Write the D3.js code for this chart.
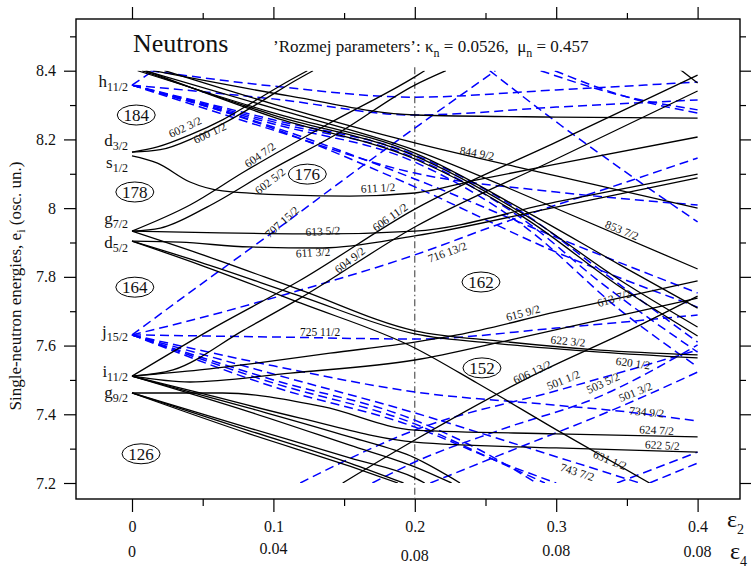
<!DOCTYPE html>
<html><head><meta charset="utf-8">
<script src="https://cdn.jsdelivr.net/npm/d3@7"></script>
<style>
body{margin:0;background:#fff}
svg{display:block}
text{font-family:"Liberation Serif","Times New Roman",serif;fill:#111}
</style></head><body>
<svg id="chart" width="751" height="569"></svg>
<script>
// ---------------- data ----------------
const energyTicks = [7.2, 7.4, 7.6, 7.8, 8, 8.2, 8.4];
const energyMinorTicks = [7.3, 7.5, 7.7, 7.9, 8.1, 8.3, 8.5];
const eps2Ticks = [0, 0.1, 0.2, 0.3, 0.4];
const eps2MinorTicks = [0.05, 0.15, 0.25, 0.35];
const eps4Labels = ["0", "0.04", "0.08", "0.08", "0.08"];
const eps4LabelShift = [0, -3, 4, -1, 0];

// positive parity orbitals (solid black): [eps2, e]
const positiveParityOrbitals = [
  [[0,8.163],[0.018,8.178],[0.041,8.213],[0.064,8.257],[0.088,8.315],[0.112,8.373],[0.124,8.4]],
  [[0,8.163],[0.02,8.17],[0.045,8.207],[0.068,8.254],[0.092,8.312],[0.115,8.37],[0.128,8.4]],
  [[0,8.152],[0.018,8.131],[0.041,8.076],[0.064,8.05],[0.112,8.038],[0.154,8.035],[0.2,8.044],[0.244,8.082],[0.3,8.128],[0.4,8.207]],
  [[0,7.933],[0.041,8.009],[0.079,8.105],[0.14,8.248],[0.2,8.382],[0.207,8.4]],
  [[0,7.933],[0.02,7.942],[0.053,8.003],[0.098,8.111],[0.147,8.221],[0.2,8.358],[0.222,8.4]],
  [[0,7.933],[0.062,7.928],[0.135,7.925],[0.2,7.933],[0.3,8.018],[0.4,8.099]],
  [[0,7.904],[0.034,7.901],[0.083,7.887],[0.135,7.884],[0.2,7.919],[0.3,8.003],[0.4,8.088]],
  [[0,7.511],[0.055,7.645],[0.119,7.79],[0.2,7.997],[0.3,8.192],[0.4,8.387]],
  [[0,7.511],[0.029,7.529],[0.079,7.645],[0.119,7.738],[0.2,7.945],[0.3,8.143],[0.4,8.341]],
  [[0,7.511],[0.048,7.529],[0.088,7.549],[0.14,7.578],[0.2,7.61],[0.23,7.631],[0.3,7.698],[0.4,7.788]],
  [[0,7.511],[0.041,7.494],[0.112,7.52],[0.2,7.558],[0.267,7.616],[0.4,7.738]],
  [[0,7.511],[0.048,7.462],[0.119,7.389],[0.2,7.319],[0.3,7.302],[0.4,7.29]],
  [[0,7.462],[0.064,7.462],[0.135,7.422],[0.2,7.354],[0.3,7.343],[0.4,7.334]],
  [[0,7.511],[0.083,7.418],[0.154,7.334],[0.2,7.273],[0.232,7.2]],
  [[0,7.511],[0.083,7.407],[0.154,7.31],[0.2,7.247],[0.226,7.2]],
  [[0,7.462],[0.083,7.352],[0.154,7.258],[0.192,7.2]],
  [[0,7.462],[0.083,7.343],[0.154,7.249],[0.188,7.2]],
  [[0,7.462],[0.083,7.36],[0.154,7.273],[0.2,7.215],[0.207,7.2]],
  [[0.149,7.2],[0.2,7.325],[0.284,7.514],[0.352,7.645],[0.4,7.744]],
  [[0,7.904],[0.048,7.835],[0.119,7.724],[0.2,7.593],[0.244,7.491],[0.303,7.348],[0.366,7.2]],
  [[0,7.933],[0.048,7.867],[0.119,7.762],[0.2,7.643],[0.26,7.613],[0.331,7.587],[0.4,7.573]],
  [[0,7.904],[0.048,7.843],[0.119,7.744],[0.2,7.634],[0.26,7.605],[0.331,7.581],[0.4,7.564]],
  [[0.015,8.4],[0.112,8.326],[0.2,8.271],[0.3,8.265],[0.4,8.262]],
  [[0.023,8.4],[0.1,8.303],[0.2,8.19],[0.3,8.094],[0.4,8.0]],
  [[0.009,8.4],[0.1,8.291],[0.2,8.169],[0.291,8.015],[0.4,7.823]],
  [[0.004,8.4],[0.1,8.277],[0.2,8.16],[0.279,7.989],[0.345,7.835],[0.4,7.709]],
  [[0.007,8.4],[0.1,8.271],[0.2,8.152],[0.279,7.977],[0.345,7.791],[0.4,7.654]],
  [[0.01,8.4],[0.1,8.265],[0.2,8.143],[0.279,7.968],[0.345,7.771],[0.4,7.628]],
  [[0.38,8.428],[0.4,8.364]]
];

// negative parity orbitals (blue dashed)
const negativeParityOrbitals = [
  [[0,8.358],[0.015,8.4]],
  [[0,8.358],[0.1,8.318],[0.2,8.271],[0.3,8.294],[0.4,8.315]],
  [[0,8.358],[0.1,8.257],[0.2,8.155],[0.279,7.98],[0.331,7.82],[0.4,7.61]],
  [[0,8.358],[0.1,8.251],[0.2,8.146],[0.279,7.96],[0.331,7.785],[0.4,7.581]],
  [[0,8.358],[0.1,8.245],[0.2,8.134],[0.279,7.942],[0.345,7.704],[0.4,7.538]],
  [[0,8.358],[0.1,8.227],[0.2,8.102],[0.3,8.047],[0.4,8.009]],
  [[0,8.358],[0.1,8.236],[0.2,8.085],[0.3,7.915],[0.4,7.753]],
  [[0,8.358],[0.1,8.232],[0.2,8.062],[0.3,7.872],[0.4,7.712]],
  [[0.013,8.4],[0.1,8.355],[0.2,8.323],[0.3,8.344],[0.4,8.367]],
  [[0.289,8.4],[0.345,8.329],[0.4,8.286]],
  [[0.299,8.4],[0.352,8.321],[0.4,8.277]],
  [[0.253,8.4],[0.303,8.242],[0.357,8.082],[0.4,7.96]],
  [[0,7.631],[0.048,7.776],[0.1,7.931],[0.159,8.111],[0.2,8.233],[0.257,8.4]],
  [[0,7.631],[0.048,7.68],[0.112,7.753],[0.2,7.864],[0.258,7.951],[0.354,8.082],[0.4,8.146]],
  [[0,7.631],[0.1,7.625],[0.2,7.619],[0.3,7.651],[0.4,7.689]],
  [[0,7.631],[0.1,7.541],[0.2,7.465],[0.298,7.427],[0.35,7.407],[0.4,7.38]],
  [[0,7.631],[0.1,7.517],[0.2,7.404],[0.274,7.31],[0.359,7.2]],
  [[0,7.631],[0.1,7.5],[0.2,7.383],[0.246,7.296],[0.286,7.2]],
  [[0,7.631],[0.1,7.491],[0.2,7.372],[0.253,7.273],[0.292,7.2]],
  [[0,7.631],[0.1,7.48],[0.2,7.363],[0.26,7.261],[0.3,7.2]],
  [[0.119,7.2],[0.2,7.354],[0.305,7.474],[0.4,7.587]],
  [[0.17,7.2],[0.2,7.261],[0.26,7.354],[0.333,7.456],[0.4,7.602]],
  [[0.211,7.2],[0.26,7.281],[0.356,7.441],[0.4,7.523]],
  [[0.343,7.2],[0.4,7.29]],
  [[0.366,7.2],[0.4,7.258]]
];

// Nilsson labels: [text, eps2, e]
const orbitalLabels = [
  ["602 3/2",0.0375,8.236],["600 1/2",0.055,8.219],["604 7/2",0.0905,8.155],["602 5/2",0.0976,8.079],
  ["611 1/2",0.174,8.059],["707 15/2",0.106,7.96],["606 11/2",0.1825,7.974],["613 5/2",0.135,7.933],
  ["611 3/2",0.128,7.871],["604 9/2",0.154,7.849],["725 11/2",0.133,7.64],["844 9/2",0.244,8.16],
  ["853 7/2",0.3465,7.936],["716 13/2",0.223,7.872],["615 9/2",0.2765,7.695],["613 7/2",0.341,7.738],
  ["622 3/2",0.3083,7.613],["620 1/2",0.3543,7.549],["606 13/2",0.283,7.523],["501 1/2",0.305,7.5],
  ["503 5/2",0.333,7.491],["501 3/2",0.356,7.465],["734 9/2",0.364,7.407],["624 7/2",0.371,7.354],
  ["622 5/2",0.375,7.31],["631 1/2",0.338,7.267],["743 7/2",0.315,7.232]
];
const orbitalLabelAngles = [-25,-25,-35,-38,-3,-42,-35,-3,-3,-38,0,10,22,-20,-15,-18,5,8,-25,-22,-25,-22,5,3,3,22,18];

// spherical states: [l, j, e of label baseline]
const sphericalStates = [["h","11/2",8.352],["d","3/2",8.181],["s","1/2",8.117],["g","7/2",7.954],
  ["d","5/2",7.884],["j","15/2",7.625],["i","11/2",7.508],["g","9/2",7.447]];

// shell gaps: [number, eps2, e]
const shellGaps = [["184",0.003,8.271],["178",0.002,8.047],["176",0.124,8.099],["164",0.002,7.77],
  ["162",0.2468,7.785],["152",0.2475,7.535],["126",0.0064,7.285]];

// ---------------- drawing ----------------
const SERIF = "'Liberation Serif','Times New Roman',serif";
const svg = d3.select("#chart");
const F = {l:76, r:740, t:19, b:499};
const x = d3.scaleLinear().domain([0,0.4]).range([132,697.6]);
const y = d3.scaleLinear().domain([7.2,8.4]).range([483,70.7]);

svg.append("defs").append("clipPath").attr("id","plotclip").append("rect")
  .attr("x", x(0)-1).attr("y", y(8.4)).attr("width", x(0.4)-x(0)+2).attr("height", y(7.2)-y(8.4));

// axes
function styleAxis(g){ g.attr("font-family",SERIF); g.select(".domain").remove();
  g.selectAll(".tick line").attr("stroke","#000").attr("stroke-width",1.2);
  g.selectAll(".tick text").style("font-family",SERIF).style("font-size","16px").attr("fill","#111"); }
svg.append("g").attr("transform",`translate(${F.l},0)`).call(d3.axisLeft(y).tickValues(energyTicks).tickSize(12).tickPadding(8).tickFormat(d3.format("~g"))).call(styleAxis);
svg.append("g").attr("transform",`translate(${F.l},0)`).call(d3.axisLeft(y).tickValues(energyMinorTicks).tickSize(6).tickFormat("")).call(styleAxis);
svg.append("g").attr("transform",`translate(${F.r},0)`).call(d3.axisRight(y).tickValues(energyTicks).tickSize(12).tickFormat("")).call(styleAxis);
svg.append("g").attr("transform",`translate(${F.r},0)`).call(d3.axisRight(y).tickValues(energyMinorTicks).tickSize(6).tickFormat("")).call(styleAxis);
svg.append("g").attr("transform",`translate(0,${F.t})`).call(d3.axisTop(x).tickValues(eps2Ticks).tickSize(12).tickFormat("")).call(styleAxis);
svg.append("g").attr("transform",`translate(0,${F.t})`).call(d3.axisTop(x).tickValues(eps2MinorTicks).tickSize(6).tickFormat("")).call(styleAxis);
svg.append("g").attr("transform",`translate(0,${F.b})`).call(d3.axisBottom(x).tickValues(eps2Ticks).tickSize(13).tickPadding(9).tickFormat(d3.format("~g"))).call(styleAxis);
svg.append("g").attr("transform",`translate(0,${F.b})`).call(d3.axisBottom(x).tickValues(eps2MinorTicks).tickSize(7).tickFormat("")).call(styleAxis);

// eps4 row
svg.append("g").selectAll("text").data(eps2Ticks).join("text")
  .attr("x", d=>x(d)).attr("y",(d,i)=>557+eps4LabelShift[i]).attr("text-anchor","middle")
  .style("font-family",SERIF).style("font-size","16px").text((d,i)=>eps4Labels[i]);

// axis symbols
const e2 = svg.append("text").attr("x",727).attr("y",527).style("font-family",SERIF).style("font-size","24px");
e2.append("tspan").text("ε"); e2.append("tspan").attr("dy",7).style("font-size","14px").text("2");
const e4 = svg.append("text").attr("x",730).attr("y",559).style("font-family",SERIF).style("font-size","24px");
e4.append("tspan").text("ε"); e4.append("tspan").attr("dy",7).style("font-size","14px").text("4");

// y title
const yt = svg.append("text").attr("transform",`translate(21,286) rotate(-90)`).attr("text-anchor","middle")
  .style("font-family",SERIF).style("font-size","17px");
yt.append("tspan").text("Single-neutron energies, e");
yt.append("tspan").attr("dy",4).style("font-size","12px").text("i");
yt.append("tspan").attr("dy",-4).text(" (osc. un.)");

// vertical dash-dot line at eps2 = 0.2
svg.append("line").attr("x1",x(0.2)).attr("x2",x(0.2)).attr("y1",y(8.41)).attr("y2",F.b-1)
  .attr("stroke","#333").attr("stroke-width",1).attr("stroke-dasharray","7,3,1.5,3");

// orbitals
const line = d3.line().x(d=>x(d[0])).y(d=>y(d[1])).curve(d3.curveMonotoneX);
const plot = svg.append("g").attr("clip-path","url(#plotclip)");
plot.selectAll("path.neg").data(negativeParityOrbitals).join("path").attr("class","neg")
  .attr("d",line).attr("fill","none").attr("stroke","#0000ff").attr("stroke-width",1.5).attr("stroke-dasharray","9,5");
plot.selectAll("path.pos").data(positiveParityOrbitals).join("path").attr("class","pos")
  .attr("d",line).attr("fill","none").attr("stroke","#000").attr("stroke-width",1.3);

// frame
svg.append("rect").attr("x",F.l).attr("y",F.t).attr("width",F.r-F.l).attr("height",F.b-F.t)
  .attr("fill","none").attr("stroke","#000").attr("stroke-width",1.4);

// orbital labels
svg.append("g").selectAll("text").data(orbitalLabels).join("text")
  .attr("transform",(d,i)=>`translate(${x(d[1])},${y(d[2])}) rotate(${orbitalLabelAngles[i]})`)
  .attr("text-anchor","middle").attr("dy","0.35em").style("font-family",SERIF).style("font-size","11.5px").attr("fill","#222").text(d=>d[0]);

// spherical labels
const sl = svg.append("g").selectAll("text").data(sphericalStates).join("text")
  .attr("x", x(0)-4).attr("y", d=>y(d[2])).attr("text-anchor","end").style("font-family",SERIF).style("font-size","17px");
sl.append("tspan").text(d=>d[0]);
sl.append("tspan").attr("dy",4).style("font-size","12px").text(d=>d[1]);

// shell gaps
const sg = svg.append("g").selectAll("g").data(shellGaps).join("g")
  .attr("transform", d=>`translate(${x(d[1])},${y(d[2])})`);
sg.append("ellipse").attr("rx",19).attr("ry",10).attr("fill","#fff").attr("stroke","#000").attr("stroke-width",1);
sg.append("text").attr("text-anchor","middle").attr("dy","0.35em").style("font-family",SERIF).style("font-size","17px").text(d=>d[0]);

// titles
svg.append("text").attr("x",133).attr("y",52).style("font-family",SERIF).style("font-size","26px").text("Neutrons");
const pt = svg.append("text").attr("x",273).attr("y",52).style("font-family",SERIF).style("font-size","17px");
pt.append("tspan").text("’Rozmej parameters’: κ");
pt.append("tspan").attr("dy",5).style("font-size","12px").text("n");
pt.append("tspan").attr("dy",-5).text(" = 0.0526,\u00a0 μ");
pt.append("tspan").attr("dy",5).style("font-size","12px").text("n");
pt.append("tspan").attr("dy",-5).text(" = 0.457");
</script></body></html>
